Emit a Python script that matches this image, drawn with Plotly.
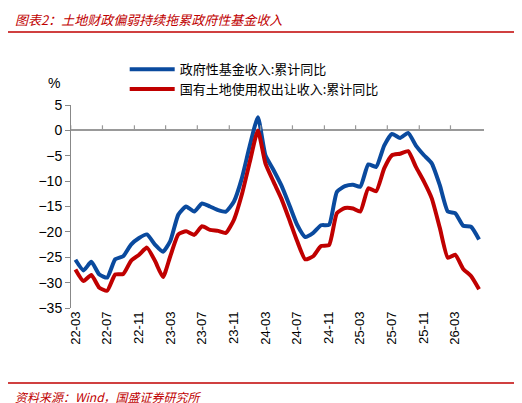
import plotly.graph_objects as go
import pandas as pd

dates = pd.date_range("2022-03-01", periods=52, freq="MS")
gov_fund = [-25.5,-27.6,-25.9,-28.4,-29,-25.4,-24.8,-22.5,-21.2,-20.5,-22.5,-23.9,
            -21.8,-16.6,-15,-16,-14.4,-15,-15.7,-16,-14,-9.5,-3,2.6,
            -4.9,-7.8,-10.8,-14.7,-18.6,-21,-20.2,-18.7,-18.6,-12.1,-11,-10.7,
            -11.1,-6.7,-7.2,-3,-0.7,-1.5,-0.5,-3,-4.9,-6.5,-10.8,-16,
            -16.3,-18.8,-19,-21.5]
land = [-27.4,-29.7,-28.5,-31,-31.6,-28.4,-28.3,-25.7,-24.5,-23.1,-25.7,-28.9,
        -24.8,-20.5,-19.9,-20.6,-18.9,-19.6,-19.8,-20.2,-17.6,-12.7,-6.2,0,
        -6.5,-10.1,-13.4,-17.6,-21.8,-25.4,-24.8,-22.8,-22.6,-16.3,-15.3,-15.4,
        -16,-11.4,-12,-7.5,-4.9,-4.6,-4.1,-7.2,-10.1,-13.4,-19.2,-25.1,
        -24.5,-27.3,-28.7,-31.3]
tick_dates = pd.date_range("2022-03-01", "2026-03-01", freq="4MS")
tick_labels = [d.strftime("%y-%m") for d in tick_dates]
y_ticks = [5,0,-5,-10,-15,-20,-25,-30,-35]

fig = go.Figure()
fig.add_trace(go.Scatter(x=dates, y=gov_fund, mode="lines", name="政府性基金收入:累计同比",
                         line=dict(color="#0a4a9e", width=4, shape="spline", smoothing=0.5)))
fig.add_trace(go.Scatter(x=dates, y=land, mode="lines", name="国有土地使用权出让收入:累计同比",
                         line=dict(color="#c00000", width=4, shape="spline", smoothing=0.5)))
for d in tick_dates:
    fig.add_shape(type="line", xref="x", yref="y", x0=d - pd.Timedelta(days=18), x1=d - pd.Timedelta(days=18),
                  y0=0, y1=1, line=dict(color="#999999", width=1.2))

fig.update_layout(
    width=522, height=403, plot_bgcolor="white", paper_bgcolor="white",
    margin=dict(l=63, r=46, t=97, b=103, autoexpand=False),
    font=dict(family="Liberation Sans, Noto Sans CJK SC", size=14, color="black"),
    showlegend=True,
    legend=dict(x=0.13, y=1.25, xanchor="left", yanchor="top", bgcolor="rgba(0,0,0,0)",
                font=dict(family="Noto Sans CJK SC", size=13), tracegroupgap=0, itemwidth=45),
    xaxis=dict(range=["2022-02-12", "2026-06-20"], tickvals=tick_dates, ticktext=tick_labels,
               tickangle=-90, showgrid=False, showline=False, ticks="", zeroline=False,
               tickfont=dict(size=13), automargin=False),
    yaxis=dict(range=[-35, 5], tickvals=y_ticks, showgrid=False, showline=True,
               linecolor="#888888", ticks="outside", ticklen=5, tickcolor="#888888",
               zeroline=True, zerolinecolor="#999999", zerolinewidth=1.5, tickfont=dict(size=14),
               automargin=False),
)
fig.add_annotation(text="%", xref="paper", yref="paper", x=-0.06, y=1.06, showarrow=False,
                   xanchor="left", yanchor="bottom", font=dict(size=14))
fig.add_annotation(text="<i>图表2：土地财政偏弱持续拖累政府性基金收入</i>", xref="paper", yref="paper",
                   x=-58/413, y=(300-12)/203, xanchor="left", yanchor="middle", showarrow=False,
                   font=dict(family="Noto Sans CJK SC", size=13, color="#c00000"))
fig.add_annotation(text="<i>资料来源：Wind，国盛证券研究所</i>", xref="paper", yref="paper",
                   x=-58/413, y=-88/203, xanchor="left", yanchor="middle", showarrow=False,
                   font=dict(family="Noto Sans CJK SC", size=12, color="#c00000"))
fig.add_shape(type="line", xref="paper", yref="paper", x0=-63/413, x1=459/413,
              y0=(300-24)/203, y1=(300-24)/203, line=dict(color="#c00000", width=1.5))
fig.add_shape(type="line", xref="paper", yref="paper", x0=-63/413, x1=459/413,
              y0=-75/203, y1=-75/203, line=dict(color="#c00000", width=1.5))
fig.write_html("out.html")
